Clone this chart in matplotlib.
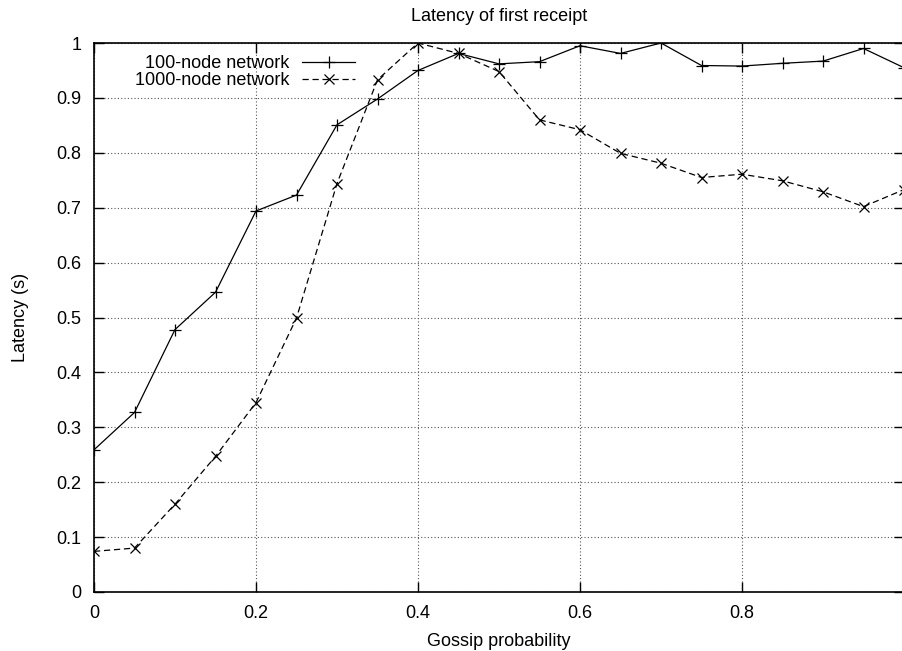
import matplotlib
matplotlib.use("Agg")
import matplotlib.pyplot as plt
from matplotlib.ticker import FormatStrFormatter

plt.rcParams['font.family'] = ['Liberation Sans', 'DejaVu Sans']

# gossip probability
prob = [0.0, 0.05, 0.1, 0.15, 0.2, 0.25, 0.3, 0.35, 0.4, 0.45, 0.5,
        0.55, 0.6, 0.65, 0.7, 0.75, 0.8, 0.85, 0.9, 0.95, 1.0]
# latency (s)
lat_100 = [0.259, 0.327, 0.478, 0.546, 0.694, 0.723, 0.851, 0.898, 0.950, 0.981, 0.962,
           0.966, 0.995, 0.981, 1.0, 0.959, 0.958, 0.963, 0.967, 0.990, 0.955]
lat_1000 = [0.074, 0.080, 0.160, 0.247, 0.345, 0.499, 0.744, 0.933, 1.0, 0.981, 0.948,
            0.860, 0.842, 0.799, 0.781, 0.755, 0.761, 0.749, 0.729, 0.702, 0.733]

xticks = [0, 0.2, 0.4, 0.6, 0.8]
yticks = [0, 0.1, 0.2, 0.3, 0.4, 0.5, 0.6, 0.7, 0.8, 0.9, 1.0]

fs = 13

fig = plt.figure(figsize=(9.02, 6.51), dpi=100)
ax = fig.add_axes([94/902, 59/651, 810/902, 549/651])

ax.plot(prob, lat_100, color='black', lw=0.9, marker='+', ms=8, mew=0.9,
        label='100-node network')
ax.plot(prob, lat_1000, color='black', lw=0.9, ls=(0, (5, 3)), marker='x', ms=7, mew=0.9,
        label='1000-node network')

ax.set_xlim(0, 1)
ax.set_ylim(0, 1)
ax.set_xticks(xticks)
ax.set_yticks(yticks)
ax.yaxis.set_major_formatter(FormatStrFormatter('%g'))
ax.xaxis.set_major_formatter(FormatStrFormatter('%g'))
ax.tick_params(direction='in', length=7, width=1, top=True, right=True,
               labelsize=fs, pad=9)
ax.grid(True, color='#555555', ls=(0, (1, 2)), lw=0.8)
for s in ax.spines.values():
    s.set_linewidth(1.2)

ax.set_title('Latency of first receipt', fontsize=fs, pad=16)
ax.set_xlabel('Gossip probability', fontsize=fs, labelpad=8)
ax.set_ylabel('Latency (s)', fontsize=fs, labelpad=20)

ax.legend(loc='upper right', bbox_to_anchor=(0.322, 0.978), frameon=False,
          markerfirst=False, fontsize=fs, borderpad=0, borderaxespad=0,
          handlelength=2.9, handletextpad=0.7, labelspacing=0.0)

fig.savefig('out.png', dpi=100)
